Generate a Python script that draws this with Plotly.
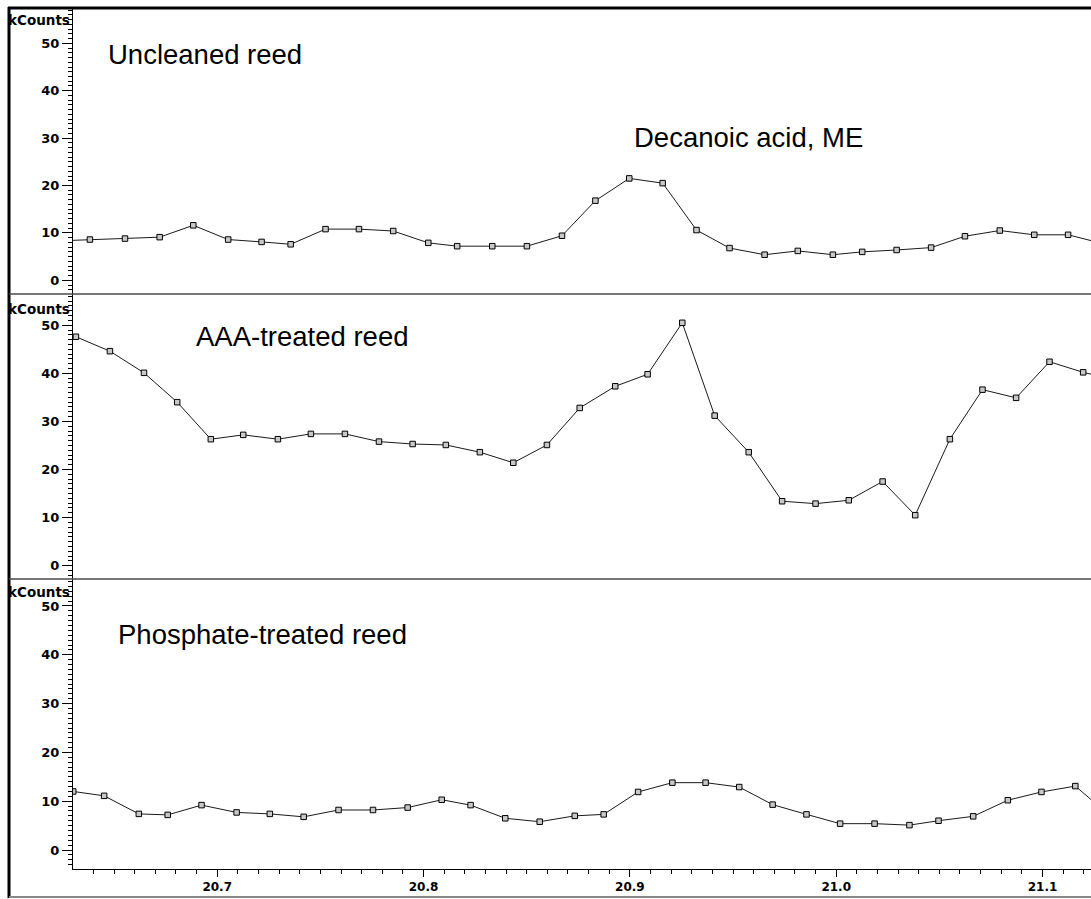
import plotly.graph_objects as go

# ---------------- data (retention time in min, intensity in kCounts) ----------------
t_uncleaned = [20.6218, 20.6383, 20.6553, 20.6721, 20.6884, 20.7053, 20.7215, 20.7356, 20.7525,
               20.7687, 20.7853, 20.8023, 20.8163, 20.8333, 20.8501, 20.8671, 20.8833, 20.8997,
               20.9159, 20.9323, 20.9483, 20.9653, 20.9814, 20.9984, 21.0126, 21.0293, 21.0460,
               21.0624, 21.0793, 21.0960, 21.1124, 21.1287]
kc_uncleaned = [8.3, 8.6, 8.8, 9.1, 11.6, 8.6, 8.1, 7.6, 10.8, 10.8, 10.4, 7.9, 7.2, 7.2, 7.2, 9.4,
                16.8, 21.5, 20.5, 10.6, 6.8, 5.4, 6.2, 5.4, 6.0, 6.4, 6.9, 9.3, 10.5, 9.6, 9.6, 7.8]

t_aaa = [20.6150, 20.6315, 20.6480, 20.6645, 20.6806, 20.6969, 20.7126, 20.7294, 20.7454, 20.7619,
         20.7784, 20.7947, 20.8108, 20.8273, 20.8435, 20.8598, 20.8757, 20.8929, 20.9086, 20.9254,
         20.9411, 20.9576, 20.9738, 20.9900, 21.0061, 21.0225, 21.0383, 21.0551, 21.0709, 21.0872,
         21.1034, 21.1197, 21.1365]
kc_aaa = [49.5, 47.6, 44.6, 40.1, 34.0, 26.3, 27.2, 26.3, 27.4, 27.4, 25.8, 25.3, 25.1, 23.6, 21.4,
          25.1, 32.8, 37.3, 39.8, 50.5, 31.2, 23.6, 13.4, 12.9, 13.6, 17.5, 10.5, 26.3, 36.6, 34.9,
          42.4, 40.2, 38.5]

t_phos = [20.6302, 20.6452, 20.6620, 20.6760, 20.6924, 20.7094, 20.7255, 20.7419, 20.7588, 20.7755,
          20.7923, 20.8088, 20.8228, 20.8396, 20.8563, 20.8733, 20.8873, 20.9040, 20.9206, 20.9367,
          20.9530, 20.9692, 20.9856, 21.0019, 21.0186, 21.0355, 21.0496, 21.0664, 21.0832, 21.0995,
          21.1159, 21.1322]
kc_phos = [12.0, 11.1, 7.4, 7.2, 9.2, 7.7, 7.4, 6.8, 8.2, 8.2, 8.7, 10.3, 9.2, 6.5, 5.8, 7.0, 7.3,
           11.9, 13.8, 13.8, 12.9, 9.3, 7.3, 5.4, 5.4, 5.1, 6.0, 6.9, 10.2, 11.9, 13.1, 7.2]

panel_titles = ["Uncleaned reed", "AAA-treated reed", "Phosphate-treated reed"]
peak_label = "Decanoic acid, ME"
y_unit = "kCounts"

x_range = [20.6301, 21.1235]
y_ranges = [[-2.89, 57.45], [-2.77, 56.49], [-3.89, 55.53]]

# ---------------- layout geometry ----------------
W, H = 1091, 899
L, R, T, B = 73, 0, 8, 30
PH = H - T - B


def py(y):
    return (H - B - y) / PH


def px(x):
    return (x - L) / (W - L - R)


domains = [[py(294), 1.0], [py(579), py(294)], [0.0, py(579)]]

fig = go.Figure()
series = [(t_uncleaned, kc_uncleaned, "y"), (t_aaa, kc_aaa, "y2"), (t_phos, kc_phos, "y3")]
for t, v, ya in series:
    fig.add_trace(go.Scatter(
        x=t, y=v, xaxis="x", yaxis=ya, mode="lines+markers",
        line=dict(color="#1a1a1a", width=1),
        marker=dict(symbol="square", size=5.5, color="#c8c8c8", line=dict(color="#000000", width=1)),
        showlegend=False, hoverinfo="skip"))

tick_font = dict(family="DejaVu Sans", size=13, color="black", weight="bold")


def yaxis(i):
    return dict(
        domain=domains[i], range=y_ranges[i], anchor="x",
        showline=True, linecolor="black", linewidth=1, mirror=False,
        ticks="outside", ticklen=10, tickwidth=1, tickcolor="black",
        tick0=0, dtick=10, showgrid=False, zeroline=False,
        tickfont=tick_font, ticklabelstandoff=0,
        minor=dict(ticks="outside", ticklen=4, tickwidth=1, tickcolor="black",
                   tick0=0, dtick=1, showgrid=False),
        fixedrange=True)


layout = dict(
    width=W, height=H,
    margin=dict(l=L, r=R, t=T, b=B, pad=0),
    paper_bgcolor="white", plot_bgcolor="white",
    xaxis=dict(
        domain=[0, 1], range=x_range, anchor="y3",
        showline=True, linecolor="black", linewidth=1,
        ticks="outside", ticklen=7, tickwidth=1, tickcolor="black",
        tick0=20.7, dtick=0.1, tickformat=".1f", showgrid=False, zeroline=False,
        tickfont=dict(family="DejaVu Sans", size=12, color="black", weight="bold"),
        ticklabelstandoff=0,
        minor=dict(ticks="outside", ticklen=4, tickwidth=1, tickcolor="black",
                   tick0=20.7, dtick=0.01, showgrid=False),
        fixedrange=True),
    yaxis=yaxis(0), yaxis2=yaxis(1), yaxis3=yaxis(2),
)
fig.update_layout(**layout)

# frame and panel separators
shapes = [
    dict(type="line", xref="paper", yref="paper", x0=px(9), x1=px(9), y0=py(898), y1=py(7),
         line=dict(color="black", width=3)),
    dict(type="line", xref="paper", yref="paper", x0=px(8), x1=1.0, y0=py(8), y1=py(8),
         line=dict(color="black", width=3)),
    dict(type="line", xref="paper", yref="paper", x0=px(9), x1=1.0, y0=py(294), y1=py(294),
         line=dict(color="#4a4a4a", width=1.5)),
    dict(type="line", xref="paper", yref="paper", x0=px(9), x1=1.0, y0=py(579), y1=py(579),
         line=dict(color="#4a4a4a", width=1.5)),
    dict(type="line", xref="paper", yref="paper", x0=px(9), x1=1.0, y0=py(897), y1=py(897),
         line=dict(color="#888888", width=2)),
]
fig.update_layout(shapes=shapes)

ann = []
for yk in (20, 309, 592):
    ann.append(dict(text=y_unit, xref="paper", yref="paper", x=px(72), y=py(yk),
                    xanchor="right", yanchor="middle", showarrow=False,
                    font=dict(family="DejaVu Sans", size=13.5, color="black", weight="bold")))

label_font = dict(family="Liberation Sans, Arial, sans-serif", size=27.5, color="black")
for text, (lx, ly) in zip(panel_titles + [peak_label],
                          [(107, 55), (195, 336), (117, 634), (633, 137)]):
    ann.append(dict(text=text, xref="paper", yref="paper", x=px(lx), y=py(ly),
                    xanchor="left", yanchor="middle", showarrow=False, font=label_font,
                    borderpad=0))
fig.update_layout(annotations=ann)

fig.write_html("out.html", config={"displayModeBar": False, "staticPlot": True},
               post_script="document.body.style.margin='0';")
